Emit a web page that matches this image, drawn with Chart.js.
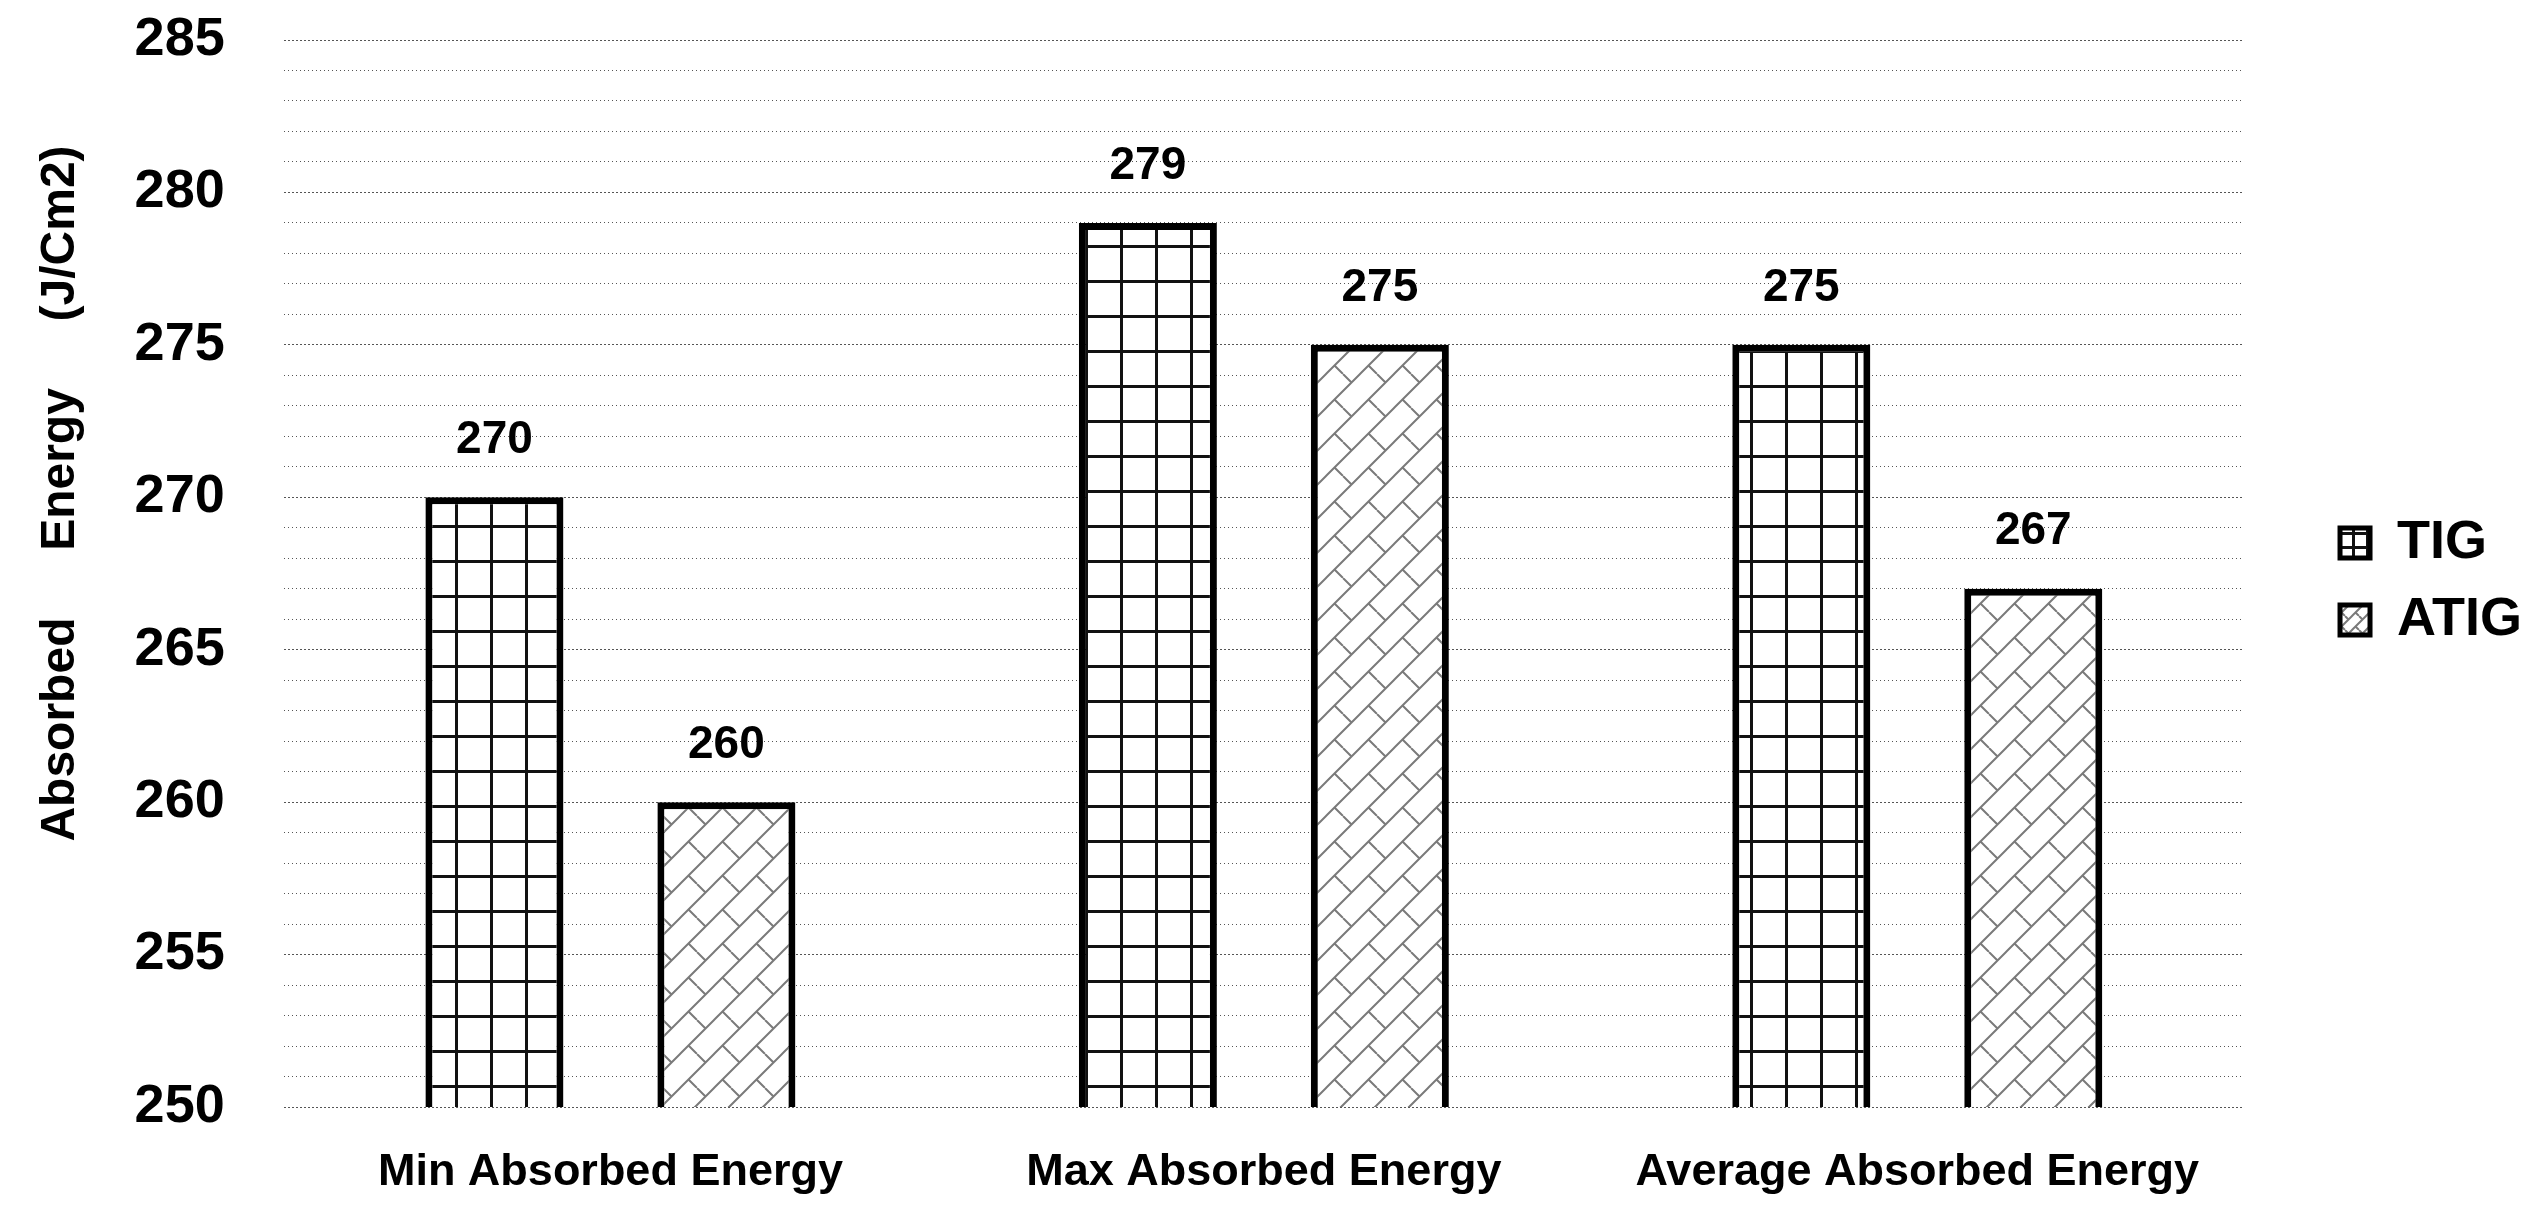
<!DOCTYPE html>
<html>
<head>
<meta charset="utf-8">
<script src="https://cdn.jsdelivr.net/npm/chart.js@4.4.1/dist/chart.umd.min.js"></script>
<style>
  html, body { margin: 0; padding: 0; background: #fff; }
  #wrap { width: 2544px; height: 1220px; }
</style>
</head>
<body>
<div id="wrap"><canvas id="chart"></canvas></div>
<script>
// ----------------------------
// Data
// ----------------------------
const categories = ["Min Absorbed Energy", "Max Absorbed Energy", "Average Absorbed Energy"];
const tigValues = [270, 279, 275];
const atigValues = [260, 275, 267];
const seriesNames = ["TIG", "ATIG"];
const yMin = 250;
const yMax = 285;

const FONT = '"Liberation Sans", Arial, sans-serif';

// ----------------------------
// Fill patterns
// ----------------------------
function gridPattern(ctx, s, w) {
  const c = document.createElement("canvas");
  c.width = s; c.height = s;
  const g = c.getContext("2d");
  g.fillStyle = "#fff";
  g.fillRect(0, 0, s, s);
  g.fillStyle = "#111";
  g.fillRect(0, 0, s, w);
  g.fillRect(0, 0, w, s);
  return ctx.createPattern(c, "repeat");
}

function brickPattern(ctx, s) {
  const c = document.createElement("canvas");
  c.width = s; c.height = s;
  const g = c.getContext("2d");
  g.fillStyle = "#fff";
  g.fillRect(0, 0, s, s);
  g.strokeStyle = "#7a7a7a";
  g.lineWidth = 2;
  g.beginPath();
  g.moveTo(-2, s + 2); g.lineTo(s + 2, -2);
  g.moveTo(-s, s); g.lineTo(2, -2);
  g.moveTo(s - 2, s + 2); g.lineTo(2 * s, 0);
  // short cross strokes
  g.moveTo(s * 0.25, s * 0.75); g.lineTo(s * 0.5, s);
  g.moveTo(s * 0.5, 0); g.lineTo(s * 0.75, s * 0.25);
  g.stroke();
  return ctx.createPattern(c, "repeat");
}

// ----------------------------
// Plugins
// ----------------------------
const valueLabels = {
  id: "valueLabels",
  afterDatasetsDraw(chart) {
    const ctx = chart.ctx;
    ctx.save();
    ctx.font = "bold 46px " + FONT;
    ctx.fillStyle = "#000";
    ctx.textAlign = "center";
    ctx.textBaseline = "middle";
    chart.data.datasets.forEach((ds, i) => {
      chart.getDatasetMeta(i).data.forEach((bar, j) => {
        ctx.fillText(String(ds.data[j]), bar.x, bar.y - 57);
      });
    });
    ctx.restore();
  }
};

// move legend a bit away from the plot
const legendShift = {
  id: "legendShift",
  afterLayout(chart) {
    const lg = chart.legend;
    if (!lg) return;
    const dx = chart.chartArea.right + 73 - lg.left;
    const dy = -43;
    lg.left += dx; lg.right += dx;
    lg.top += dy; lg.bottom += dy;
  }
};

// ----------------------------
// Chart
// ----------------------------
const canvas = document.getElementById("chart");
const ctx = canvas.getContext("2d");
const legendFills = [gridPattern(ctx, 14, 3), brickPattern(ctx, 14)];

new Chart(ctx, {
  type: "bar",
  data: {
    labels: categories,
    datasets: [
      {
        label: seriesNames[0],
        data: tigValues,
        backgroundColor: gridPattern(ctx, 35, 3),
        borderColor: "#000",
        borderWidth: 7,
        borderSkipped: false
      },
      {
        label: seriesNames[1],
        data: atigValues,
        backgroundColor: brickPattern(ctx, 34),
        borderColor: "#000",
        borderWidth: 7,
        borderSkipped: false
      }
    ]
  },
  options: {
    responsive: true,
    maintainAspectRatio: false,
    animation: false,
    categoryPercentage: 0.71,
    barPercentage: 0.595,
    layout: { padding: { left: 0, top: 40, right: 85, bottom: 11 } },
    plugins: {
      legend: {
        position: "right",
        labels: {
          color: "#000",
          font: { family: FONT, size: 54, weight: "bold" },
          boxWidth: 30,
          boxHeight: 30,
          padding: 23,
          generateLabels(chart) {
            const items = Chart.defaults.plugins.legend.labels.generateLabels(chart);
            items.forEach((it, i) => {
              it.lineWidth = 5;
              it.fillStyle = legendFills[i];
            });
            return items;
          }
        }
      },
      tooltip: { enabled: false }
    },
    scales: {
      x: {
        grid: { display: false, drawTicks: true, tickLength: 30 },
        border: { display: false },
        ticks: {
          color: "#000",
          font: { family: FONT, size: 45, weight: "bold" },
          padding: 9,
          maxRotation: 0
        }
      },
      y: {
        min: yMin,
        max: yMax,
        border: {
          display: false,
          dash: c => (c.tick && c.tick.value % 5 === 0 ? [2, 2] : [1, 3])
        },
        grid: {
          color: "#555",
          lineWidth: 1,
          drawTicks: true,
          tickLength: 54,
          tickColor: "rgba(0,0,0,0)"
        },
        ticks: {
          stepSize: 1,
          autoSkip: false,
          color: "#000",
          font: { family: FONT, size: 54, weight: "bold" },
          padding: 5,
          callback: v => (v % 5 === 0 ? String(v) : "")
        },
        title: {
          display: true,
          text: " ".repeat(12) + "Absorbed     Energy     (J/Cm2)",
          color: "#000",
          font: { family: FONT, size: 48, weight: "bold" },
          padding: { top: 32, bottom: 40 }
        }
      }
    }
  },
  plugins: [valueLabels, legendShift]
});
</script>
</body>
</html>
